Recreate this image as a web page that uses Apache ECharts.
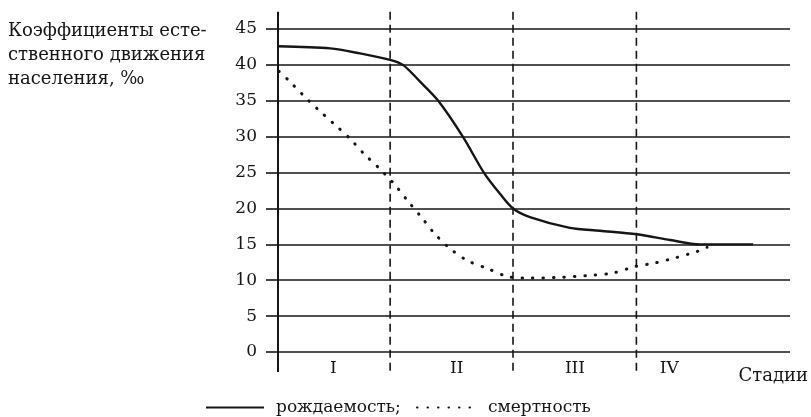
<!DOCTYPE html>
<html>
<head>
<meta charset="utf-8">
<script src="https://cdn.jsdelivr.net/npm/echarts@6/dist/echarts.min.js"></script>
<style>
  html, body { margin: 0; padding: 0; background: #fff; }
  #chart { width: 811px; height: 417px; }
</style>
</head>
<body>
<div id="chart"></div>
<script>
// границы стадий и подписи (по оси X условные единицы 0..100)
const stageBounds = [21.9, 45.9, 70]
const stageNames = ['I', 'II', 'III', 'IV']
const stageLabelX = [10.8, 34.9, 58, 76.4]

// рождаемость, ‰
const birthX = [0, 10.2, 16, 21.9, 24.4, 27.7, 31.3, 36.1, 40.2, 43.4, 45.9, 49.2, 57, 62.9, 70.1, 76.6, 82.4, 92.8]
const birthY = [42.6, 42.3, 41.6, 40.7, 40.0, 37.7, 35.0, 30.0, 25.0, 22.0, 20.0, 18.8, 17.3, 16.9, 16.4, 15.6, 15.0, 15.0]

// смертность, ‰
const deathX = [0.2, 2.0, 4.9, 7.8, 10.9, 14.1, 16.8, 19.9, 22.7, 25.4, 28.1, 30.7, 33.8, 37.1, 41.0, 44.9, 48.8, 55.1, 61.3, 65.4, 69.7, 73.6, 77.5, 81.8, 83.8]
const deathY = [39.1, 37.9, 35.8, 33.8, 31.8, 29.7, 27.6, 25.5, 23.4, 21.0, 18.7, 16.4, 14.3, 12.7, 11.6, 10.5, 10.3, 10.4, 10.7, 11.0, 11.9, 12.4, 13.1, 14.0, 14.6]

const serif = '"DejaVu Serif", "Liberation Serif", serif'
const ink = '#161616'

const zip = (xs, ys) => xs.map((x, i) => [x, ys[i]])

// вертикальные линии выходят за пределы сетки сверху и снизу
function vLine(dashed) {
    return function (params, api) {
        const x = api.value(0)
        const top = api.coord([x, 47.4])
        const bottom = api.coord([x, -2.8])
        return {
            type: 'line',
            shape: { x1: top[0], y1: top[1], x2: bottom[0], y2: bottom[1] },
            style: {
                stroke: ink,
                lineWidth: dashed ? 1.6 : 2,
                lineDash: dashed ? [8, 5] : null
            }
        }
    }
}

const chart = echarts.init(document.getElementById('chart'))
chart.setOption({
    animation: false,
    backgroundColor: '#fff',
    title: {
        text: 'Коэффициенты есте-\nственного движения\nнаселения, ‰',
        left: 8,
        top: 19,
        padding: 0,
        textStyle: {
            fontFamily: serif,
            fontWeight: 'normal',
            fontSize: 18,
            lineHeight: 24,
            color: ink
        }
    },
    graphic: [{
        type: 'text',
        right: 3,
        top: 367,
        style: { text: 'Стадии', fontFamily: serif, fontSize: 18, fill: ink }
    }],
    legend: [
        {
            data: ['рождаемость;'],
            left: 205,
            top: 399,
            padding: 0,
            itemWidth: 58,
            itemHeight: 14,
            itemStyle: { opacity: 0 },
            textStyle: { fontFamily: serif, fontSize: 17, color: ink, padding: [0, 0, 0, 7] }
        },
        {
            data: ['смертность'],
            left: 416,
            top: 399,
            padding: 0,
            itemWidth: 62,
            itemHeight: 14,
            itemStyle: { opacity: 0 },
            textStyle: { fontFamily: serif, fontSize: 17, color: ink, padding: [0, 0, 0, 4] }
        }
    ],
    grid: { left: 278, right: 21, top: 29, bottom: 65 },
    xAxis: {
        type: 'value',
        min: 0,
        max: 100,
        show: false
    },
    yAxis: {
        type: 'value',
        min: 0,
        max: 45,
        interval: 5,
        axisLine: { show: false },
        axisTick: { show: true, length: 12, lineStyle: { color: ink, width: 1.6 } },
        splitLine: { lineStyle: { color: ink, width: 1.6 } },
        axisLabel: { margin: 21, fontFamily: serif, fontSize: 17, color: ink }
    },
    series: [
        {
            type: 'custom',
            silent: true,
            renderItem: vLine(false),
            data: [[0, 0]]
        },
        {
            type: 'custom',
            silent: true,
            renderItem: vLine(true),
            data: stageBounds.map(v => [v, 0])
        },
        {
            type: 'custom',
            silent: true,
            renderItem: function (params, api) {
                const p = api.coord([api.value(0), 0])
                return {
                    type: 'text',
                    x: p[0],
                    y: p[1] + 17,
                    style: {
                        text: stageNames[params.dataIndex],
                        fontFamily: serif,
                        fontSize: 17,
                        fill: ink,
                        align: 'center',
                        verticalAlign: 'middle'
                    }
                }
            },
            data: stageLabelX.map(v => [v, 0])
        },
        {
            name: 'рождаемость;',
            type: 'line',
            symbol: 'none',
            smooth: 0.3,
            lineStyle: { color: ink, width: 2.4 },
            itemStyle: { color: ink },
            data: zip(birthX, birthY)
        },
        {
            name: 'смертность',
            type: 'line',
            symbol: 'none',
            smooth: 0.3,
            lineStyle: { color: ink, width: 3, type: [0.5, 10], cap: 'round' },
            itemStyle: { color: ink },
            data: zip(deathX, deathY)
        }
    ]
})
</script>
</body>
</html>
